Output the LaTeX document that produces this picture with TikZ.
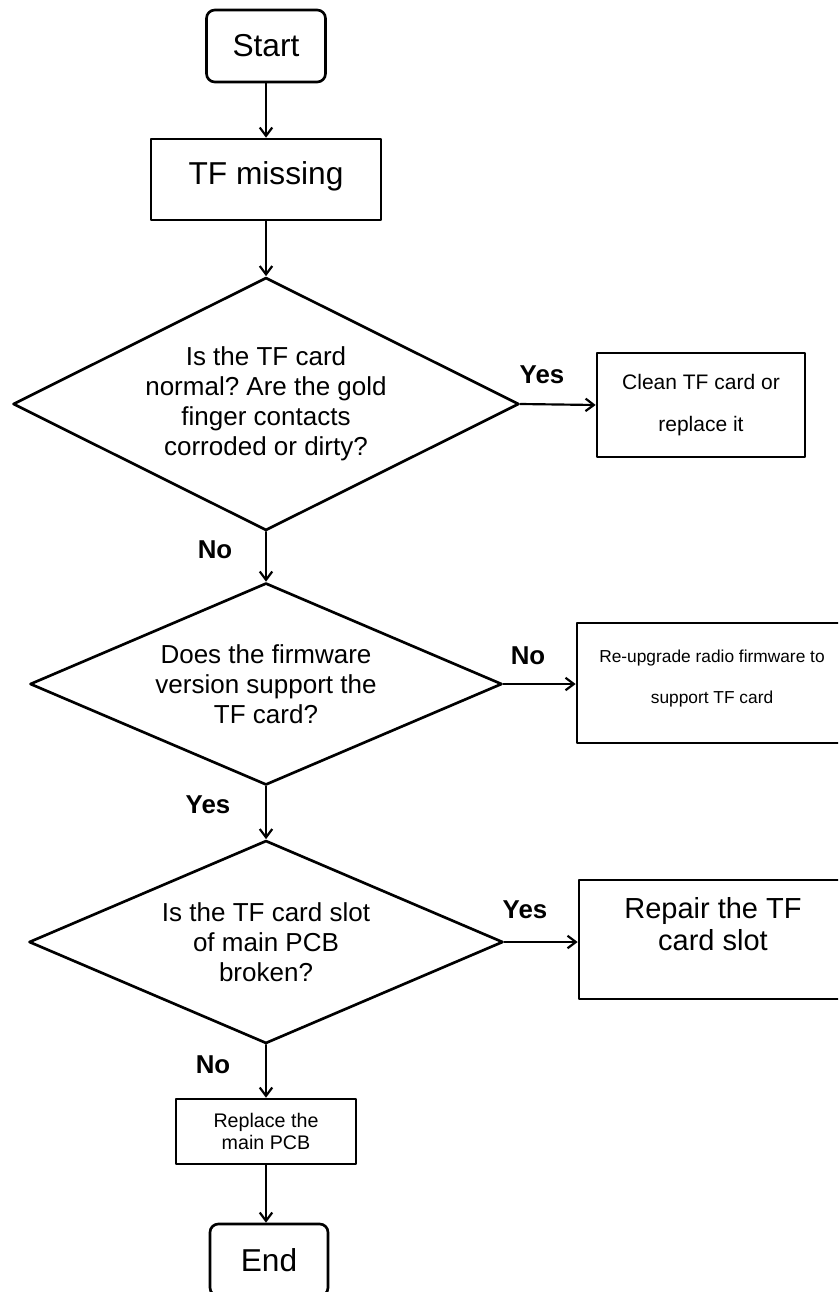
\documentclass[tikz,border=0pt]{standalone}
\usepackage{fontspec}
\setmainfont{Liberation Sans}
\frenchspacing
\usepackage{tikz}
\usetikzlibrary{shapes.geometric, arrows.meta}

\begin{document}
\begin{tikzpicture}[x=0.6pt, y=-0.6pt, line cap=round, line join=round,
  box/.style={draw, line width=1.6pt, rectangle, align=center, inner sep=0pt},
  term/.style={box, rounded corners=5pt, font=\fontsize{19}{22}\selectfont},
  cond/.style={draw, line width=1.6pt, diamond, align=center, inner sep=0pt,
    font=\fontsize{15.6}{18}\selectfont},
  lbl/.style={font=\bfseries\fontsize{15.5}{18}\selectfont},
  arr/.style={line width=1.3pt, -{Straight Barb[length=5pt,width=7.5pt]}}]

% pagina
\useasboundingbox (0,0) rectangle (838,1292);
\clip (0,0) rectangle (838,1292);

% colonna principale
\node[term, minimum width=119*0.6pt, minimum height=72*0.6pt] (start) at (266,46) {Start};
\node[box, minimum width=230*0.6pt, minimum height=81*0.6pt,
  font=\fontsize{19}{22}\selectfont] (tfmiss) at (266,179.5) {TF missing\\[-0.72em]\mbox{}};
\node[cond, aspect=2, minimum width=506*0.6pt, minimum height=253*0.6pt] (chkcard) at (266,404)
  {Is the TF card\\normal? Are the gold\\finger contacts\\corroded or dirty?};
\node[cond, aspect=2.34, minimum width=472*0.6pt, minimum height=202*0.6pt] (chkfw) at (266,684)
  {Does the firmware\\version support the\\TF card?};
\node[cond, aspect=2.32, minimum width=474*0.6pt, minimum height=203*0.6pt] (chkslot) at (266,942)
  {Is the TF card slot\\of main PCB\\broken?};
\node[box, minimum width=180*0.6pt, minimum height=65*0.6pt,
  font=\fontsize{11.8}{13.2}\selectfont] (replpcb) at (266,1131.5) {Replace the\\main PCB};
\node[term, minimum width=118*0.6pt, minimum height=72*0.6pt] (finish) at (269,1260) {End};

% rami a destra
\node[box, minimum width=208*0.6pt, minimum height=104*0.6pt,
  font=\fontsize{12.6}{25}\selectfont] (clean) at (701,405) {Clean TF card or\\replace it};
\node[box, minimum width=270*0.6pt, minimum height=120*0.6pt,
  font=\fontsize{10.4}{24.6}\selectfont] (reup) at (712,683)
  {Re-upgrade radio firmware to\\support TF card\\[-17.4pt]\mbox{}};
\node[box, minimum width=268*0.6pt, minimum height=119*0.6pt,
  font=\fontsize{17.4}{19.2}\selectfont] (repair) at (713,939.5)
  {Repair the TF\\card slot\\\mbox{}};

% frecce
\draw[arr] (start) -- (tfmiss);
\draw[arr] (tfmiss) -- (chkcard);
\draw[arr] (chkcard) -- (chkfw);
\draw[arr] (chkfw) -- (chkslot);
\draw[arr] (chkslot) -- (replpcb);
\draw[arr] (replpcb.south) -- (replpcb.south |- finish.north);
\draw[arr] (chkcard.east) -- (clean.west);
\draw[arr] (chkfw.east) -- (reup.west |- chkfw.east);
\draw[arr] (chkslot.east) -- (repair.west |- chkslot.east);

% etichette
\node[lbl] (yes1) at (542,375) {Yes};
\node[lbl] (no1)  at (215,550) {No};
\node[lbl] (no2)  at (528,656) {No};
\node[lbl] (yes2) at (208,805) {Yes};
\node[lbl] (yes3) at (525,910) {Yes};
\node[lbl] (no3)  at (213,1065) {No};

\end{tikzpicture}
\end{document}
